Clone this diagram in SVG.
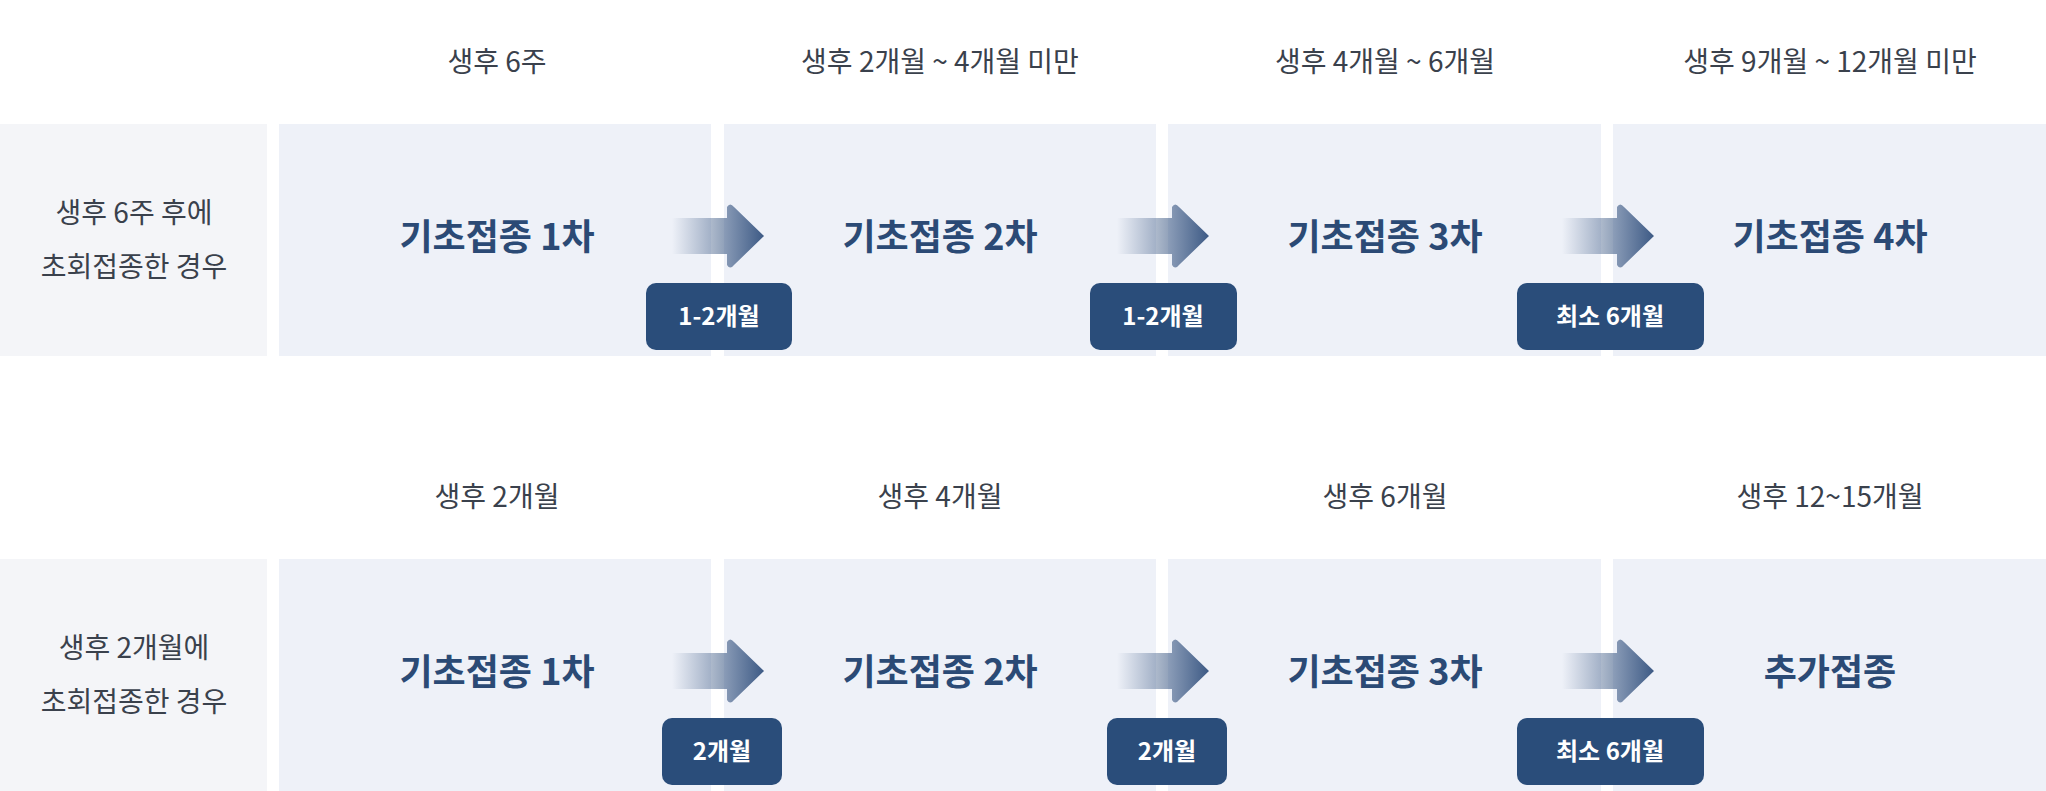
<svg xmlns="http://www.w3.org/2000/svg" width="2046" height="791" viewBox="0 0 2046 791">
<style>
.lab{fill:#f4f5f8}.col{fill:#eef1f8}
.hd{font-family:"Noto Sans CJK KR",sans-serif;font-size:28px;fill:#3a414c;text-anchor:middle}
.lt{font-family:"Noto Sans CJK KR",sans-serif;font-size:28px;fill:#3a414c;text-anchor:middle}
.tt{font-family:"Noto Sans CJK KR",sans-serif;font-size:36px;font-weight:bold;fill:#2b4a75;text-anchor:middle}
.bd{fill:#2a4d7a}
.bt{font-family:"Noto Sans CJK KR",sans-serif;font-size:24px;font-weight:bold;fill:#fff;text-anchor:middle}
</style>
<defs>
<linearGradient id="g" x1="0" x2="1" y1="0" y2="0">
<stop offset="0" stop-color="#3d5a85" stop-opacity="0"/>
<stop offset="1" stop-color="#3d5a85"/>
</linearGradient>
<path id="arr" d="M0,13 H55 V2 Q58,-3 62,2 L92,31 L62,60 Q58,65 55,60 V49 H0 Z" fill="url(#g)"/>
</defs>
<rect width="2046" height="791" fill="#fff"/>
<g id="row1">
<g id="r1-label"><rect class="lab" x="0" y="124" width="267" height="232"/>
<text class="lt" x="134" y="223">생후 6주 후에</text><text class="lt" x="134" y="277">초회접종한 경우</text></g>
<g id="r1-c1"><rect class="col" x="279" y="124" width="432" height="232"/><text class="hd" x="497" y="72">생후 6주</text><text class="tt" x="497" y="250">기초접종 1차</text></g>
<g id="r1-c2"><rect class="col" x="724" y="124" width="432" height="232"/><text class="hd" x="940" y="72">생후 2개월 ~ 4개월 미만</text><text class="tt" x="940" y="250">기초접종 2차</text></g>
<g id="r1-c3"><rect class="col" x="1168" y="124" width="433" height="232"/><text class="hd" x="1385" y="72">생후 4개월 ~ 6개월</text><text class="tt" x="1385" y="250">기초접종 3차</text></g>
<g id="r1-c4"><rect class="col" x="1613" y="124" width="433" height="232"/><text class="hd" x="1830" y="72">생후 9개월 ~ 12개월 미만</text><text class="tt" x="1830" y="250">기초접종 4차</text></g>
</g>
<g id="row2">
<g id="r2-label"><rect class="lab" x="0" y="559" width="267" height="232"/>
<text class="lt" x="134" y="658">생후 2개월에</text><text class="lt" x="134" y="712">초회접종한 경우</text></g>
<g id="r2-c1"><rect class="col" x="279" y="559" width="432" height="232"/><text class="hd" x="497" y="507">생후 2개월</text><text class="tt" x="497" y="685">기초접종 1차</text></g>
<g id="r2-c2"><rect class="col" x="724" y="559" width="432" height="232"/><text class="hd" x="940" y="507">생후 4개월</text><text class="tt" x="940" y="685">기초접종 2차</text></g>
<g id="r2-c3"><rect class="col" x="1168" y="559" width="433" height="232"/><text class="hd" x="1385" y="507">생후 6개월</text><text class="tt" x="1385" y="685">기초접종 3차</text></g>
<g id="r2-c4"><rect class="col" x="1613" y="559" width="433" height="232"/><text class="hd" x="1830" y="507">생후 12~15개월</text><text class="tt" x="1830" y="685">추가접종</text></g>
</g>
<g id="connectors">
<use href="#arr" x="672" y="205"/><use href="#arr" x="1117" y="205"/><use href="#arr" x="1562" y="205"/>
<use href="#arr" x="672" y="640"/><use href="#arr" x="1117" y="640"/><use href="#arr" x="1562" y="640"/>
<rect class="bd" x="646" y="283" width="146" height="67" rx="10"/><text class="bt" x="719" y="325">1-2개월</text>
<rect class="bd" x="1090" y="283" width="147" height="67" rx="10"/><text class="bt" x="1163" y="325">1-2개월</text>
<rect class="bd" x="1517" y="283" width="187" height="67" rx="10"/><text class="bt" x="1610" y="325">최소 6개월</text>
<rect class="bd" x="662" y="718" width="120" height="67" rx="10"/><text class="bt" x="722" y="760">2개월</text>
<rect class="bd" x="1107" y="718" width="120" height="67" rx="10"/><text class="bt" x="1167" y="760">2개월</text>
<rect class="bd" x="1517" y="718" width="187" height="67" rx="10"/><text class="bt" x="1610" y="760">최소 6개월</text>
</g>
</svg>
